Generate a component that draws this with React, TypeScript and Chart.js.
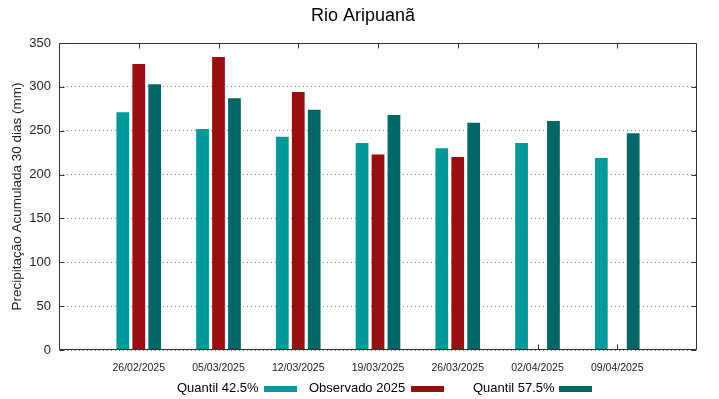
import React, { useEffect, useRef } from "react";
import { Chart, registerables } from "chart.js";

Chart.register(...registerables);

const categories = ["26/02/2025", "05/03/2025", "12/03/2025", "19/03/2025", "26/03/2025", "02/04/2025", "09/04/2025"];
const quantil425 = [271, 252, 243, 236, 230, 236, 219];
const observado2025 = [326, 334, 294, 223, 220, null, null];
const quantil575 = [303, 287, 274, 268, 259, 261, 247];
const yTickValues = [0, 50, 100, 150, 200, 250, 300, 350];

const seriesNames = ["Quantil 42.5%", "Observado 2025", "Quantil 57.5%"];
const seriesColors = ["#009999", "#990f0f", "#006666"];

const FONT = "'Liberation Sans', Arial, sans-serif";

const framePlugin = {
  id: "frame",
  afterDraw(chart: any) {
    const { ctx, chartArea } = chart;
    const { left, right, top, bottom } = chartArea;
    const xs = chart.scales.x;
    const ys = chart.scales.y;
    ctx.save();
    ctx.strokeStyle = "#333";
    ctx.lineWidth = 1;
    ctx.beginPath();
    const L = Math.round(left) + 0.5, R = Math.round(right) - 0.5, T = Math.round(top) + 0.5, B = Math.round(bottom) - 0.5;
    ctx.rect(L, T, R - L, B - T);
    for (let i = 1; i <= categories.length; i++) {
      const x = Math.round(xs.getPixelForValue(i)) + 0.5;
      ctx.moveTo(x, B); ctx.lineTo(x, B - 5);
      ctx.moveTo(x, T); ctx.lineTo(x, T + 5);
    }
    for (const v of yTickValues) {
      const y = Math.round(ys.getPixelForValue(v)) + 0.5;
      ctx.moveTo(L, y); ctx.lineTo(L + 5, y);
      ctx.moveTo(R, y); ctx.lineTo(R - 5, y);
    }
    ctx.stroke();
    // title
    ctx.fillStyle = "#000";
    ctx.font = `18px ${FONT}`;
    ctx.textAlign = "center";
    ctx.textBaseline = "middle";
    ctx.fillText("Rio Aripuanã", 363, 16);
    ctx.restore();
  },
};

export default function App() {
  const ref = useRef<HTMLCanvasElement>(null);
  useEffect(() => {
    const labels = ["", ...categories, ""];
    const pad = (arr: (number | null)[]) => [null, ...arr, null];
    const chart = new Chart(ref.current!, {
      type: "bar",
      data: {
        labels,
        datasets: [quantil425, observado2025, quantil575].map((d, i) => ({
          label: seriesNames[i],
          data: pad(d),
          backgroundColor: seriesColors[i],
          borderWidth: 0,
          barPercentage: 0.8,
          categoryPercentage: 0.6,
        })),
      },
      options: {
        responsive: false,
        animation: false,
        layout: { padding: { top: 43, right: 22, left: 0, bottom: 0 } },
        plugins: {
          legend: { display: false },
          title: { display: false },
          tooltip: { enabled: false },
        },
        scales: {
          x: {
            offset: false,
            grid: { display: false, drawTicks: false },
            border: { display: false },
            ticks: {
              autoSkip: false,
              maxRotation: 0,
              padding: 12,
              color: "#222",
              font: { family: FONT, size: 10.5 },
            },
            afterFit: (s: any) => { s.height = 49; },
          },
          y: {
            min: 0,
            max: 350,
            grid: { color: "#8a8a8a", drawTicks: false, lineWidth: 1 },
            border: { display: false, dash: [1, 3] },
            ticks: {
              stepSize: 50,
              padding: 8,
              color: "#222",
              font: { family: FONT, size: 13 },
            },
            title: {
              display: true,
              text: "Precipitação Acumulada 30 dias (mm)",
              color: "#222",
              font: { family: FONT, size: 13.5 },
              padding: { top: 9, bottom: 0 },
            },
            afterFit: (s: any) => { s.width = 59; },
          },
        },
      },
      plugins: [framePlugin],
    });
    return () => chart.destroy();
  }, []);

  const legendItems = [
    { text: seriesNames[0], textLeft: 177, boxLeft: 264, color: seriesColors[0] },
    { text: seriesNames[1], textLeft: 309, boxLeft: 411, color: seriesColors[1] },
    { text: seriesNames[2], textLeft: 473, boxLeft: 559, color: seriesColors[2] },
  ];

  return (
    <div style={{ position: "fixed", left: 0, top: 0, width: 719, height: 399, background: "#fff" }}>
      <canvas ref={ref} width={719} height={399} style={{ display: "block" }} />
      {legendItems.map((it) => (
        <React.Fragment key={it.text}>
          <div style={{ position: "absolute", left: it.textLeft, top: 380, fontFamily: FONT, fontSize: 13, lineHeight: "15px", color: "#000", whiteSpace: "nowrap" }}>{it.text}</div>
          <div style={{ position: "absolute", left: it.boxLeft, top: 386, width: 33, height: 6, background: it.color }} />
        </React.Fragment>
      ))}
    </div>
  );
}
